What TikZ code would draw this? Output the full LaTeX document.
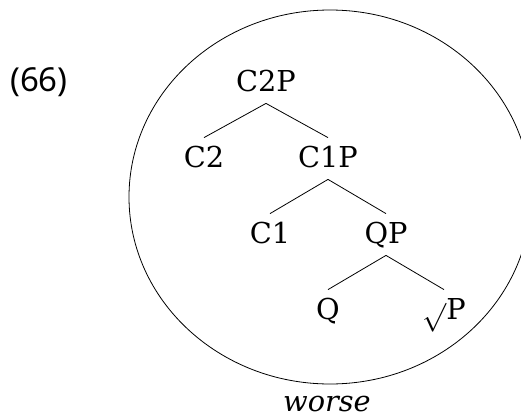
\documentclass[tikz,border=0pt]{standalone}
\usepackage{fontspec}
\setmainfont{DejaVu Serif}
\newfontfamily\exfont{Noto Sans}

\begin{document}
\begin{tikzpicture}[x=0.5pt,y=-0.5pt,
  cat/.style={inner sep=0pt, anchor=base, text height=14.5pt, text depth=6pt,
              font=\fontsize{14.4}{17}\selectfont}]
\def \lx{58};
\def \ly{76};
\useasboundingbox (0,0) rectangle (521,418);

% example number
\node[anchor=base, inner sep=0pt, font=\exfont\fontsize{16.5}{20}\selectfont] (exnum) at (39,91) {(66)};

% the circle round the tree
\draw (330,197) ellipse [x radius=201, y radius=187];

% tree
\node[cat] (c2p) at (266,91) {C2P};
\node[cat] (c2)  at (266-\lx-4,91+\ly) {C2};
\node[cat] (c1p) at (266+\lx+4,91+\ly) {C1P};
\node[cat] (c1)  at (328-\lx,91+2*\ly) {C1};
\node[cat] (qp)  at (328+\lx,91+2*\ly) {QP};
\node[cat] (q)   at (386-\lx,91+3*\ly) {Q};
\node[cat] (rp)  at (386+\lx,91+3*\ly) {\raisebox{-5pt}{$\sqrt{\vphantom{P}}$}P};

\foreach \a/\b in {c2p/c2, c2p/c1p, c1p/c1, c1p/qp, qp/q, qp/rp}
    \draw (\a.south) -- (\b.north);

\node[anchor=base, inner sep=0pt, font=\itshape\fontsize{14.4}{17}\selectfont] (worse) at (327,411) {worse};
\end{tikzpicture}
\end{document}
